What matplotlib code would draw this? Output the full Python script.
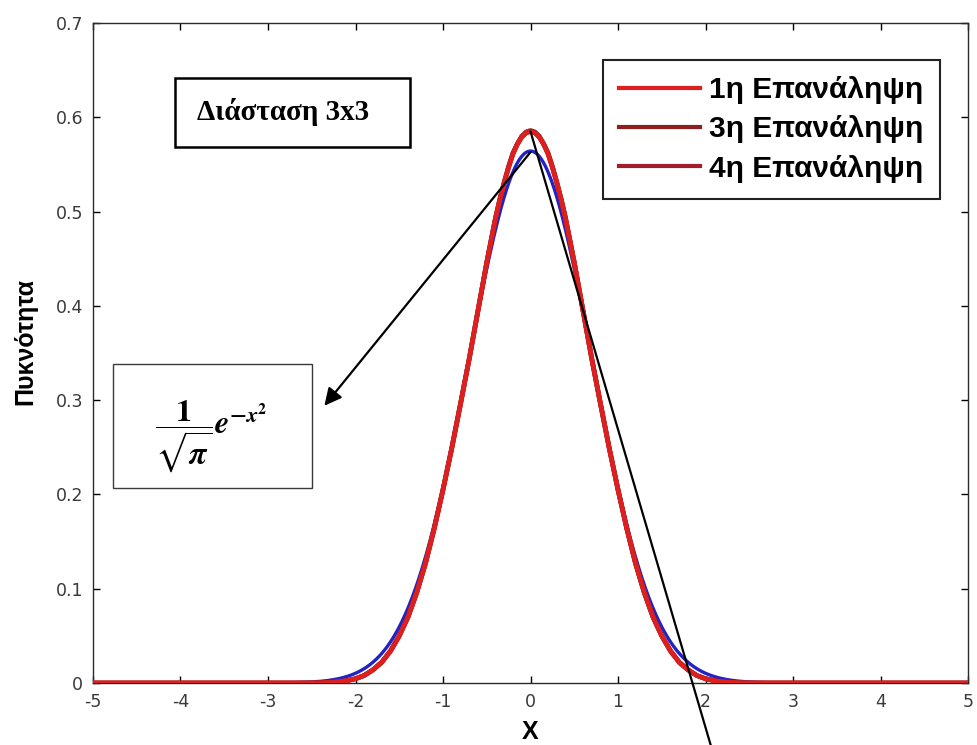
import numpy as np
import matplotlib
matplotlib.use('Agg')
import matplotlib.pyplot as plt
from matplotlib.patches import Rectangle

plt.rcParams['mathtext.fontset'] = 'stix'

# density estimates per iteration, read on the positive half (symmetric about 0)
x_half = [0.0, 0.05, 0.1, 0.15, 0.2, 0.25, 0.3, 0.35, 0.4, 0.5, 0.6, 0.7, 0.8,
          0.9, 1.0, 1.1, 1.2, 1.3, 1.4, 1.5, 1.6, 1.7, 1.8, 1.9, 2.0, 2.1, 2.2,
          2.3, 2.4, 2.5]
iter1 = [0.585, 0.5835, 0.579, 0.5715, 0.561, 0.547, 0.531, 0.513, 0.493, 0.446,
         0.395, 0.344, 0.296, 0.249, 0.205, 0.164, 0.127, 0.096, 0.070, 0.050,
         0.034, 0.022, 0.014, 0.008, 0.0045, 0.0025, 0.0012, 0.0005, 0.0002, 0.0]
iter3 = [0.586, 0.5845, 0.580, 0.572, 0.562, 0.548, 0.531, 0.513, 0.493, 0.446,
         0.395, 0.344, 0.296, 0.249, 0.205, 0.164, 0.127, 0.096, 0.070, 0.050,
         0.034, 0.022, 0.014, 0.008, 0.0045, 0.0025, 0.0012, 0.0005, 0.0002, 0.0]
iter4 = [0.585, 0.5835, 0.579, 0.5715, 0.562, 0.547, 0.531, 0.513, 0.493, 0.446,
         0.395, 0.344, 0.296, 0.249, 0.205, 0.164, 0.127, 0.096, 0.070, 0.050,
         0.034, 0.022, 0.014, 0.008, 0.0045, 0.0025, 0.0012, 0.0005, 0.0002, 0.0]
labels = ['1η Επανάληψη', '3η Επανάληψη', '4η Επανάληψη']
colors = ['#dc1f1f', '#8e1f1f', '#a01e2c']

x_ticks = [-5, -4, -3, -2, -1, 0, 1, 2, 3, 4, 5]
y_ticks = [0, 0.1, 0.2, 0.3, 0.4, 0.5, 0.6, 0.7]


def full_curve(half):
    # mirror the half profile and pad with zeros out to the axis limits
    xs = [-5.0] + [-v for v in x_half[:0:-1]] + x_half + [5.0]
    ys = [0.0] + half[:0:-1] + half + [0.0]
    return np.array(xs), np.array(ys)


fig = plt.figure(figsize=(9.77, 7.45), dpi=100)
ax = fig.add_axes([93 / 977, 1 - 683 / 745, 875 / 977, 660 / 745])

# theoretical density 1/sqrt(pi) * exp(-x^2)
xt = np.linspace(-5, 5, 1001)
ax.plot(xt, np.exp(-xt ** 2) / np.sqrt(np.pi), color='#2323c4', lw=2.4, zorder=2)

# later iterations underneath, first iteration drawn on top
zorders = [5, 4, 3]
for data, lab, c, z in zip([iter1, iter3, iter4], labels, colors, zorders):
    xs, ys = full_curve(data)
    ax.plot(xs, ys, color=c, lw=3.4, label=lab, zorder=z)

ax.set_xlim(-5, 5)
ax.set_ylim(0, 0.7)
ax.set_xticks(x_ticks)
ax.set_yticks(y_ticks)
ax.set_xticklabels(['%g' % t for t in x_ticks])
ax.set_yticklabels(['%g' % t for t in y_ticks])
ax.tick_params(direction='in', length=5, width=1, top=True, right=True,
               labelsize=12.5, labelcolor='#3a3a3a', pad=7)
for s in ax.spines.values():
    s.set_color('#2a2a2a')
    s.set_linewidth(1.0)

ax.set_xlabel('X', fontsize=18, fontweight='bold', family='Liberation Sans')
ax.set_ylabel('Πυκνότητα', fontsize=18, fontweight='bold', family='Liberation Sans')
ax.xaxis.set_label_coords(0.4994, -0.056)
ax.yaxis.set_label_coords(-0.063, 0.518)

leg = ax.legend(loc='upper left', bbox_to_anchor=(0.5829, 0.9439), borderaxespad=0,
                prop={'family': 'Liberation Sans', 'weight': 'bold', 'size': 21.5},
                handlelength=2.7, handletextpad=0.3, labelspacing=0.37,
                borderpad=0.55, fancybox=False, framealpha=1)
leg.get_frame().set_edgecolor('#222222')
leg.get_frame().set_linewidth(1.5)
leg.set_zorder(10)
for line in leg.get_lines():
    line.set_linewidth(3)

# dimension box
fig.patches.append(Rectangle((175 / 977, 1 - 147 / 745), 235 / 977, 69 / 745,
                             transform=fig.transFigure, fill=False, ec='black', lw=1.8))
fig.text(283 / 977, 1 - 112 / 745, 'Διάσταση 3x3', ha='center', va='center',
         family='Liberation Serif', fontweight='bold', fontsize=21)

# formula box
fig.patches.append(Rectangle((113 / 977, 1 - 488 / 745), 199 / 977, 124 / 745,
                             transform=fig.transFigure, fill=False, ec='#3a3a3a', lw=1.0))
fig.text(211 / 977, 1 - 437 / 745,
         r'$\dfrac{\mathbf{1}}{\sqrt{\boldsymbol{\pi}}}\boldsymbol{e}^{\boldsymbol{-x}^{\mathbf{2}}}$',
         ha='center', va='center', fontsize=23)

# arrows from the two peaks
ax.annotate('', xy=(-2.356, 0.294), xytext=(0, 0.563),
            arrowprops=dict(arrowstyle='-|>', color='black', lw=1.6, mutation_scale=26,
                            shrinkA=0, shrinkB=0), zorder=6)
ax.annotate('', xy=(2.12, -0.085), xytext=(0, 0.585), annotation_clip=False,
            arrowprops=dict(arrowstyle='-', color='black', lw=1.6,
                            shrinkA=0, shrinkB=0), zorder=6)

fig.savefig('out.png', dpi=100)
